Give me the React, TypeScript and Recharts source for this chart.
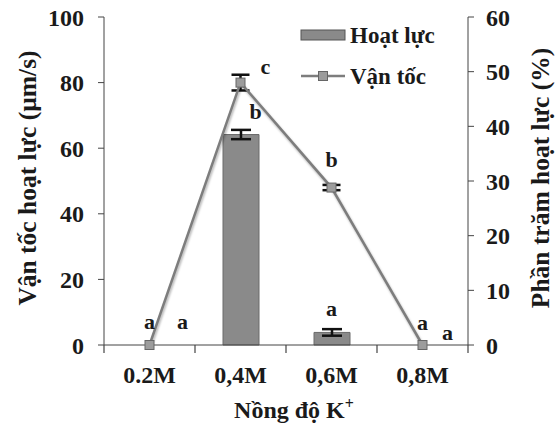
import React from 'react';
import {
  ComposedChart, Bar, Line, XAxis, YAxis, ErrorBar, LabelList, Label,
} from 'recharts';

// data
const categories = ['0.2M', '0,4M', '0,6M', '0,8M'];
const hoatLuc = [0, 38.5, 2.3, 0]; // % (right axis)
const hoatLucErr = [null, 0.85, 0.6, null];
const vanToc = [0, 80, 48, 0]; // µm/s (left axis)
const vanTocErr = [null, 2.4, 0.8, null];
const hoatLucLetters = ['a', 'b', 'a', 'a'];
const vanTocLetters = ['a', 'c', 'b', 'a'];
const leftTicks = [0, 20, 40, 60, 80, 100];
const rightTicks = [0, 10, 20, 30, 40, 50, 60];

const data = categories.map((name, i) => ({
  name,
  hoatLuc: hoatLuc[i],
  hoatLucErr: hoatLucErr[i],
  vanToc: vanToc[i],
  vanTocErr: vanTocErr[i],
}));

const FONT = '"Liberation Serif", "DejaVu Serif", serif';
const INK = '#1a1a1a';
const BAR = '#8a8a8a';
const LINE = '#7d7d7d';

// nudges for the significance letters (layout only)
const lineNudge = [[0, -23], [25, -16], [0, -28], [0, -22]];
const barNudge = [[33, -23], [15, -23], [0, -23], [25, -12]];

const letter = (cx: number, cy: number, txt: string) => (
  <text x={cx} y={cy + 7} textAnchor="middle" fontFamily={FONT} fontWeight="bold" fontSize={22} fill={INK}>
    {txt}
  </text>
);

const XTick = (props: any) => {
  const { x, y, payload, index } = props;
  const half = payload?.offset || 45.5;
  return (
    <g>
      <line x1={x - half} y1={y - 8} x2={x - half} y2={y} stroke="#444" strokeWidth={1.2} />
      {index === categories.length - 1 && (
        <line x1={x + half} y1={y - 8} x2={x + half} y2={y} stroke="#444" strokeWidth={1.2} />
      )}
      <text x={x} y={y + 30} textAnchor="middle" fontFamily={FONT} fontWeight="bold" fontSize={24} fill={INK}>
        {payload.value}
      </text>
    </g>
  );
};

const SquareDot = (props: any) => {
  const { cx, cy } = props;
  if (cx == null || cy == null) return <g />;
  return <rect x={cx - 4.5} y={cy - 4.5} width={9} height={9} fill="#9c9c9c" stroke="#666" strokeWidth={1} />;
};

const tickStyle = { fontFamily: FONT, fontWeight: 'bold', fontSize: 24, fill: INK };

const vTitle = (text: string, dx: number) => (p: any) => {
  const vb = p.viewBox;
  const cx = vb.x + dx;
  const cy = vb.y + vb.height / 2 - 3;
  return (
    <text x={cx} y={cy} transform={`rotate(-90 ${cx} ${cy})`} textAnchor="middle" dominantBaseline="central" fontFamily={FONT} fontWeight="bold" fontSize={25.5} fill={INK}>
      {text}
    </text>
  );
};

export default function App() {
  return (
    <div style={{ position: 'absolute', left: 0, top: 0, width: 555, height: 429, background: '#fff' }}>
      <ComposedChart width={555} height={429} data={data} margin={{ top: 17, right: 0, bottom: 0, left: 0 }}>
        <XAxis dataKey="name" height={84} stroke="#444" tickLine={false} tickSize={8} tickMargin={0} tick={<XTick />}>
          <Label
            content={(p: any) => {
              const vb = p.viewBox;
              return (
                <text x={vb.x + vb.width / 2 + 8} y={vb.y + 73} textAnchor="middle" fontFamily={FONT} fontWeight="bold" fontSize={24} fill={INK}>
                  Nồng độ K<tspan dy={-9} fontSize={16}>+</tspan>
                </text>
              );
            }}
          />
        </XAxis>
        <YAxis yAxisId="left" width={104} domain={[0, 100]} ticks={leftTicks} stroke="#444" tickSize={6} tickMargin={14} tick={tickStyle}>
          <Label content={vTitle('Vận tốc hoạt lực (µm/s)', 27)} />
        </YAxis>
        <YAxis yAxisId="right" orientation="right" width={87} domain={[0, 60]} ticks={rightTicks} stroke="#444" tickSize={6} tickMargin={12} tick={tickStyle}>
          <Label content={vTitle('Phần trăm hoạt lực (%)', 72)} />
        </YAxis>
        <Bar yAxisId="right" dataKey="hoatLuc" name="Hoạt lực" fill={BAR} stroke="#6a6a6a" barSize={36} isAnimationActive={false}>
          <ErrorBar dataKey="hoatLucErr" direction="y" width={10} stroke="#111" strokeWidth={2.5} />
        </Bar>
        {/* invisible carrier for the bar letters so zero bars get one too */}
        <Line yAxisId="right" dataKey="hoatLuc" stroke="none" dot={false} activeDot={false} legendType="none" isAnimationActive={false}>
          <LabelList
            dataKey="hoatLuc"
            content={(p: any) => {
              const i = p.index;
              return letter(p.x + barNudge[i][0], p.y + barNudge[i][1], hoatLucLetters[i]);
            }}
          />
        </Line>
        <Line
          yAxisId="left"
          dataKey="vanToc"
          name="Vận tốc"
          stroke={LINE}
          strokeWidth={2.5}
          dot={<SquareDot />}
          activeDot={false}
          style={{ filter: 'drop-shadow(1px 2px 1px rgba(0,0,0,0.3))' }}
          isAnimationActive={false}
        >
          <ErrorBar dataKey="vanTocErr" direction="y" width={9} stroke="#111" strokeWidth={2.5} />
          <LabelList
            dataKey="vanToc"
            content={(p: any) => {
              const i = p.index;
              return letter(p.x + lineNudge[i][0], p.y + lineNudge[i][1], vanTocLetters[i]);
            }}
          />
        </Line>
      </ComposedChart>
      {/* legend */}
      <svg width={170} height={70} style={{ position: 'absolute', left: 300, top: 20 }}>
        <rect x={1} y={10} width={44} height={10} fill={BAR} stroke="#555" strokeWidth={1} />
        <text x={50} y={23} fontFamily={FONT} fontWeight="bold" fontSize={23} fill={INK}>Hoạt lực</text>
        <line x1={1} y1={56} x2={45} y2={56} stroke={LINE} strokeWidth={2.5} />
        <rect x={18.5} y={51.5} width={9} height={9} fill="#9c9c9c" stroke="#666" strokeWidth={1} />
        <text x={50} y={64} fontFamily={FONT} fontWeight="bold" fontSize={23} fill={INK}>Vận tốc</text>
      </svg>
    </div>
  );
}
